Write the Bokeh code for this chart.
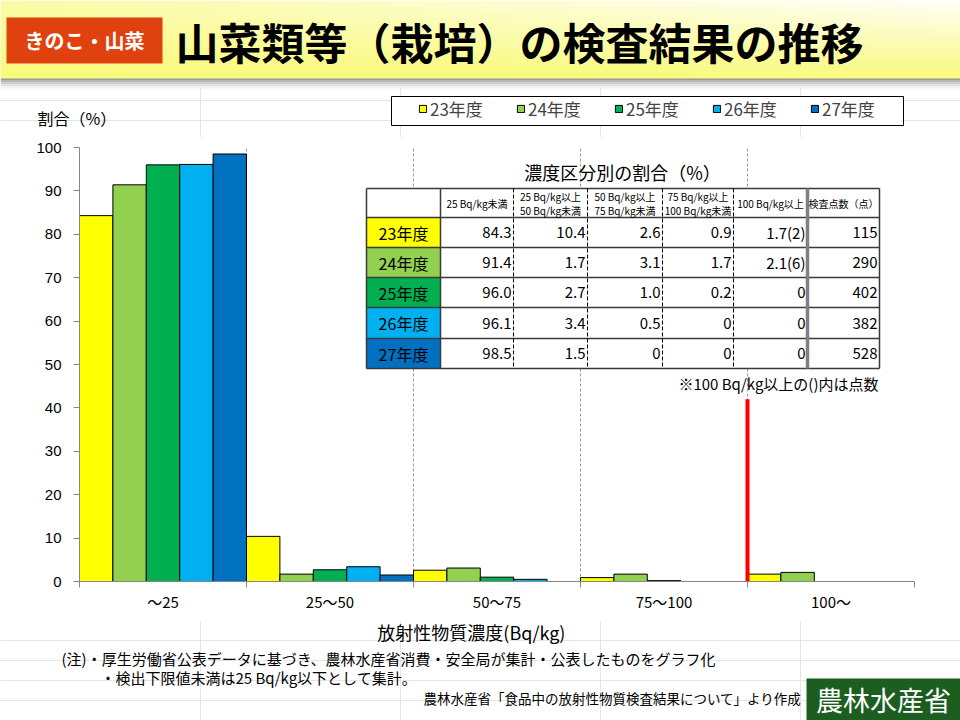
from bokeh.plotting import figure
from bokeh.layouts import column
from bokeh.models import (Range1d, LinearAxis, FixedTicker, Grid,
                          ColumnDataSource, Legend, LegendItem)
from bokeh.transform import dodge
from bokeh.core.properties import value
from bokeh.embed import file_html
from bokeh.resources import INLINE

# ---------------- data ----------------
categories = ["～25", "25～50", "50～75", "75～100", "100～"]
years = ["23年度", "24年度", "25年度", "26年度", "27年度"]
share_23 = [84.3, 10.4, 2.6, 0.9, 1.7]
share_24 = [91.4, 1.7, 3.1, 1.7, 2.1]
share_25 = [96.0, 2.7, 1.0, 0.2, 0.0]
share_26 = [96.1, 3.4, 0.5, 0.0, 0.0]
share_27 = [98.5, 1.5, 0.0, 0.0, 0.0]
count_over_100 = [2, 6, None, None, None]
samples = [115, 290, 402, 382, 528]
y_ticks = [0, 10, 20, 30, 40, 50, 60, 70, 80, 90, 100]
header_labels = [["25 Bq/kg未満"], ["25 Bq/kg以上", "50 Bq/kg未満"], ["50 Bq/kg以上", "75 Bq/kg未満"],
                 ["75 Bq/kg以上", "100 Bq/kg未満"], ["100 Bq/kg以上"], ["検査点数（点）"]]
year_colors = ["#FFFF00", "#92D050", "#00B050", "#00B0F0", "#0070C0"]

series = [share_23, share_24, share_25, share_26, share_27]
n = len(series)
nc = len(categories)
cat_pos = list(range(nc))                       # category index on the x scale
bounds = [i - 0.5 for i in range(nc + 1)]       # category boundaries

# ---------------- layout constants (page pixels) ----------------
W = 960
TOP_H = 137          # header strip: 0..137
MID_END = 620        # chart strip: 137..620
FL, FR, FT, FB = 79, 914, 147, 581   # plot frame in page pixels
JP = "Noto Sans CJK JP"
LAT = "Liberation Sans"
NAN = float("nan")


def canvas(y0, y1):
    f = figure(width=W, height=y1 - y0, x_range=Range1d(0, W), y_range=Range1d(y1, y0),
               x_axis_location=None, y_axis_location=None, output_backend="svg",
               toolbar_location=None, min_border=0, frame_align=False)
    f.outline_line_color = None
    f.background_fill_color = "white"
    f.border_fill_color = "white"
    return f


def txt(f, x, y, text, size, align="left", color="black", style="normal", font=JP):
    f.text(x=[x], y=[y], text=[text], text_font=value(font), text_font_size=size,
           text_align=align, text_baseline="middle", text_color=color, text_font_style=style)


# =============== header strip ===============
top = canvas(0, TOP_H)
gl, gr, gt, gb, gc = [], [], [], [], []
cols, rows = 32, 13
for ci in range(cols):
    for ri in range(rows):
        x0 = ci * W / cols
        y0 = ri * 78 / rows
        fx = (ci + 0.5) / cols
        fy = (ri + 0.5) / rows
        w = (1 - fy) * (0.35 + 0.65 * fx)
        gl.append(x0); gr.append(x0 + W / cols + 0.6)
        gt.append(y0); gb.append(y0 + 78 / rows + 0.6)
        gc.append("#%02x%02x%02x" % (int(250 + 5 * w), int(250 + 5 * w), int(124 + 126 * w)))
top.quad(left=gl, right=gr, top=gt, bottom=gb, fill_color=gc, line_color=None)
shade = ["#9a9a9a", "#b4b4b4", "#cccccc", "#e2e2e2", "#f2f2f2"]
top.quad(left=[0] * len(shade), right=[W] * len(shade), top=[78 + 2 * k for k in range(len(shade))],
         bottom=[80 + 2 * k for k in range(len(shade))], fill_color=shade, line_color=None)

top.quad(left=[6], right=[162], top=[17], bottom=[63], fill_color="#E0420F", line_color=None)
txt(top, 84, 40, "きのこ・山菜", "20px", align="center", color="white", style="bold")
txt(top, 175, 40, "山菜類等（栽培）の検査結果の推移", "43px", style="bold")
txt(top, 37, 117, "割合（%）", "16px")

# legend (glyph samples mirror the bar styling; they hold no drawable data)
top.quad(left=[391], right=[903], top=[96], bottom=[125], fill_color="white", line_color="black",
         line_width=1)
samples_r = [top.vbar(x=[NAN], top=[NAN], width=1, fill_color=year_colors[j], line_color="black",
                      line_width=1) for j in range(n)]
legend = Legend(items=[LegendItem(label=years[j], renderers=[samples_r[j]], index=0) for j in range(n)],
                orientation="horizontal", location=(418, TOP_H - 121),
                border_line_color=None, background_fill_alpha=0, padding=0, margin=0,
                spacing=0, glyph_width=9, glyph_height=9, label_standoff=3, label_width=86,
                label_height=9, label_text_font=JP, label_text_font_size="17px")
top.add_layout(legend)

# =============== chart strip ===============
mid_h = MID_END - TOP_H
p = figure(width=W, height=mid_h, x_range=Range1d(bounds[0], bounds[-1]), y_range=Range1d(0, 100),
           x_axis_location=None, output_backend="svg", toolbar_location=None,
           min_border_left=FL, min_border_right=W - FR,
           min_border_top=FT - TOP_H, min_border_bottom=MID_END - FB, frame_align=False)
p.outline_line_color = None
p.background_fill_color = "white"
p.border_fill_color = "white"
p.grid.visible = False

p.extra_x_ranges = {"px": Range1d(FL, FR)}
p.extra_y_ranges = {"py": Range1d(FB, FT)}

yax = p.yaxis[0]
yax.ticker = FixedTicker(ticks=y_ticks)
yax.major_tick_in = 0
yax.major_tick_out = 6
yax.minor_tick_line_color = None
yax.axis_line_color = "#868686"
yax.major_tick_line_color = "#868686"
yax.major_label_text_font = LAT
yax.major_label_text_font_size = "15px"
yax.major_label_text_color = "black"
yax.major_label_standoff = 12

xax = LinearAxis(ticker=FixedTicker(ticks=cat_pos, minor_ticks=bounds),
                 major_label_overrides={i: c for i, c in zip(cat_pos, categories)},
                 major_tick_line_color=None, major_tick_in=0, major_tick_out=0,
                 minor_tick_in=0, minor_tick_out=6, minor_tick_line_color="#868686",
                 axis_line_color="#868686", major_label_standoff=3,
                 major_label_text_font=JP, major_label_text_font_size="15px",
                 major_label_text_color="black")
p.add_layout(xax, "below")

xgrid = Grid(dimension=0, ticker=FixedTicker(ticks=bounds[1:]),
             grid_line_color="#9a9a9a", grid_line_dash="3 2", grid_line_width=1)
p.add_layout(xgrid)

data = {"pos": cat_pos}
for j, s in enumerate(series):
    data[f"v{j}"] = s
    data[f"la{j}"] = [1.0 if v > 0 else 0.0 for v in s]
src = ColumnDataSource(data)

bw = 1.0 / n
for j in range(n):
    off = -0.5 + bw / 2 + bw * j
    p.vbar(x=dodge("pos", off), top=f"v{j}", bottom=0, width=bw, source=src,
           fill_color=year_colors[j], line_color="black", line_width=1, line_alpha=f"la{j}")

red_x = bounds[categories.index("100～")]
p.segment(x0=[red_x], x1=[red_x], y0=[0], y1=[42], line_color="#FF0000", line_width=4)

# ---- table (drawn in page pixels through the px/py ranges) ----
tx = [366, 440, 513, 587, 662, 733, 807, 879]
ty = [188, 217, 247, 277, 307, 338, 368]
kw = dict(x_range_name="px", y_range_name="py")
p.quad(left=[tx[0]], right=[tx[-1]], top=[ty[0]], bottom=[ty[-1]], fill_color="white", line_color=None, **kw)
p.quad(left=[tx[0]] * n, right=[tx[1]] * n, top=ty[1:-1], bottom=ty[2:], fill_color=year_colors,
       line_color=None, **kw)
p.segment(x0=[tx[0]] * len(ty), x1=[tx[-1]] * len(ty), y0=ty, y1=ty, line_color="#3a3a3a", line_width=1.5, **kw)
p.segment(x0=[tx[0], tx[1], tx[-1]], x1=[tx[0], tx[1], tx[-1]], y0=[ty[0]] * 3, y1=[ty[-1]] * 3,
          line_color="#3a3a3a", line_width=1.5, **kw)
dx = tx[2:6]
p.segment(x0=dx, x1=dx, y0=[ty[0]] * len(dx), y1=[ty[-1]] * len(dx), line_color="black",
          line_width=1, line_dash="4 2", **kw)
p.segment(x0=[tx[6]], x1=[tx[6]], y0=[ty[0]], y1=[ty[-1]], line_color="#808080", line_width=3.5, **kw)

hx, hy, ht = [], [], []
hmid = (ty[0] + ty[1]) / 2
for c, lines in enumerate(header_labels):
    cx = (tx[c + 1] + tx[c + 2]) / 2
    if len(lines) == 1:
        hx.append(cx); hy.append(hmid); ht.append(lines[0])
    else:
        hx += [cx, cx]; hy += [hmid - 7, hmid + 7]; ht += lines
p.text(x=hx, y=hy, text=ht, text_font=value(JP), text_font_size="10px", text_align="center",
       text_baseline="middle", text_color="black", **kw)

ly = [(ty[i + 1] + ty[i + 2]) / 2 for i in range(n)]
p.text(x=[(tx[0] + tx[1]) / 2] * n, y=ly, text=years, text_font=value(JP), text_font_size="16px",
       text_align="center", text_baseline="middle", text_color="black", **kw)


def fmt(v):
    return "0" if v == 0 else f"{v:.1f}"


cx_, cy_, ct_ = [], [], []
for i in range(n):
    for c in range(nc):
        t = fmt(series[i][c])
        if c == nc - 1 and count_over_100[i] is not None:
            t += f"({count_over_100[i]})"
        cx_.append(tx[c + 2] - 2); cy_.append(ly[i]); ct_.append(t)
    cx_.append(tx[7] - 2); cy_.append(ly[i]); ct_.append(str(samples[i]))
p.text(x=cx_, y=cy_, text=ct_, text_font=value(JP), text_font_size="15px", text_align="right",
       text_baseline="middle", text_color="black", **kw)

p.text(x=[622], y=[171], text=["濃度区分別の割合（%）"], text_font=value(JP), text_font_size="18px",
       text_align="center", text_baseline="middle", text_color="black", **kw)
p.text(x=[878], y=[383], text=["※100 Bq/kg以上の()内は点数"], text_font=value(JP), text_font_size="15px",
       text_align="right", text_baseline="middle", text_color="black", **kw)

# =============== footer strip ===============
bot = canvas(MID_END, 720)
txt(bot, 471, 631, "放射性物質濃度(Bq/kg)", "18px", align="center")
txt(bot, 61, 658, "(注)・厚生労働省公表データに基づき、農林水産省消費・安全局が集計・公表したものをグラフ化", "15px")
txt(bot, 100, 677, "・検出下限値未満は25 Bq/kg以下として集計。", "15px")
txt(bot, 423, 697, "農林水産省「食品中の放射性物質検査結果について」より作成", "13.5px")
bot.quad(left=[806], right=[960], top=[678], bottom=[720], fill_color="#1B5E20", line_color=None)
txt(bot, 883, 699, "農林水産省", "27px", align="center", color="white")

layout = column(top, p, bot, spacing=0)
open("out.html", "w").write(file_html(layout, INLINE))
